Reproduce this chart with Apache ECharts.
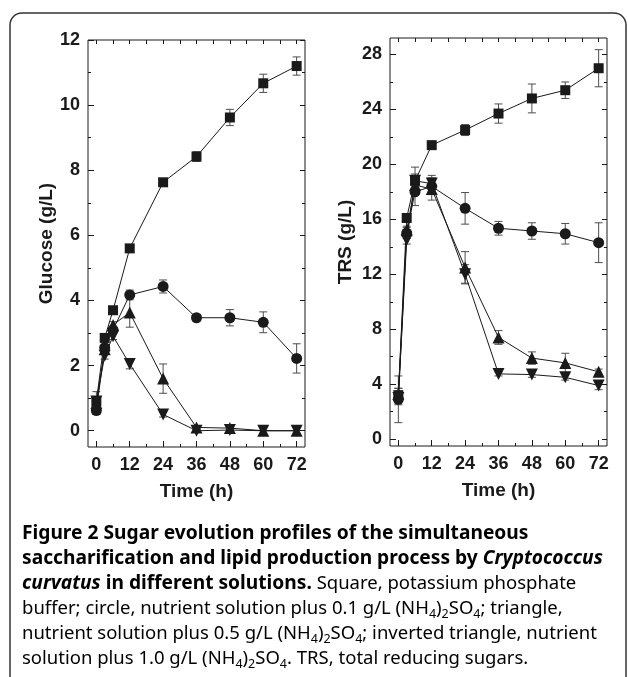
<!DOCTYPE html>
<html>
<head>
<meta charset="utf-8">
<script src="https://cdn.jsdelivr.net/npm/echarts@6/dist/echarts.min.js"></script>
<style>
  html, body { margin: 0; padding: 0; background: #fff; }
  #main { width: 628px; height: 677px; }
</style>
</head>
<body>
<div id="main"></div>
<script>
// sampling times (h)
var time = [0, 3, 6, 12, 24, 36, 48, 60, 72];

// glucose (g/L)
var gluSquare = [0.9, 2.85, 3.7, 5.6, 7.63, 8.42, 9.62, 10.67, 11.2];
var gluSquareErr = [0.1, 0.1, 0.1, 0.08, 0.08, 0.15, 0.25, 0.28, 0.28];
var gluCircle = [0.62, 2.55, 3.1, 4.17, 4.43, 3.47, 3.47, 3.33, 2.22];
var gluCircleErr = [0.12, 0.1, 0.1, 0.15, 0.2, 0.1, 0.25, 0.32, 0.45];
var gluTriangle = [0.85, 2.5, 3.25, 3.63, 1.6, 0.1, 0.08, 0, 0];
var gluTriangleErr = [0.35, 0.1, 0.1, 0.45, 0.45, 0.05, 0.05, 0, 0];
var gluInverted = [0.9, 2.3, 2.9, 2.05, 0.5, 0, 0.02, 0, 0];
var gluInvertedErr = [0.1, 0.1, 0.1, 0.15, 0.08, 0, 0, 0, 0];

// total reducing sugars (g/L)
var trsSquare = [3.2, 16.1, 18.8, 21.4, 22.5, 23.7, 24.8, 25.4, 27.0];
var trsSquareErr = [0.5, 0.3, 1.0, 0.2, 0.4, 0.7, 1.05, 0.6, 1.35];
var trsCircle = [2.9, 15.0, 18.0, 18.4, 16.8, 15.35, 15.15, 14.95, 14.3];
var trsCircleErr = [1.7, 0.4, 1.0, 0.6, 1.15, 0.5, 0.6, 0.75, 1.45];
var trsTriangle = [3.3, 15.2, 18.5, 18.2, 12.5, 7.4, 5.9, 5.55, 4.9];
var trsTriangleErr = [0.4, 0.3, 0.5, 0.8, 1.15, 0.5, 0.45, 0.7, 0.2];
var trsInverted = [3.0, 14.5, 18.8, 18.6, 12.0, 4.75, 4.7, 4.5, 3.9];
var trsInvertedErr = [0.5, 0.3, 0.5, 0.6, 0.7, 0.15, 0.2, 0.2, 0.3];

// tick values
var timeMajor = [0, 12, 24, 36, 48, 60, 72];
var timeMinor = [6, 18, 30, 42, 54, 66];
var gluMajor = [0, 2, 4, 6, 8, 10, 12];
var gluMinor = [1, 3, 5, 7, 9, 11];
var trsMajor = [0, 4, 8, 12, 16, 20, 24, 28];
var trsMinor = [2, 6, 10, 14, 18, 22, 26];

var chart = echarts.init(document.getElementById('main'));

var ink = '#1a1a1a';
var labelFont = { color: ink, fontFamily: 'Liberation Sans', fontWeight: 'bold', fontSize: 18 };
var nameFont = { color: ink, fontFamily: 'Liberation Sans', fontWeight: 'bold', fontSize: 19 };

function tickAxis(grid, pos, min, max, values, len, extra) {
  var ax = {
    gridIndex: grid, type: 'value', position: pos, min: min, max: max,
    axisLine: { show: false, onZero: false },
    splitLine: { show: false },
    axisTick: { show: true, inside: true, length: len, customValues: values, lineStyle: { color: ink, width: 1 } },
    axisLabel: { show: false }
  };
  if (extra) Object.assign(ax, extra);
  return ax;
}

var xAxes = [], yAxes = [];
// grid 0 : glucose   (x axes 0..3, y axes 0..3)
// grid 1 : TRS       (x axes 4..7, y axes 4..7)
[0, 1].forEach(function (g) {
  xAxes.push(tickAxis(g, 'bottom', -3, 75, timeMajor, 6, {
    axisLabel: Object.assign({ show: true, margin: 9, customValues: timeMajor }, labelFont),
    name: 'Time (h)', nameLocation: 'middle', nameGap: 35, nameTextStyle: nameFont
  }));
  xAxes.push(tickAxis(g, 'bottom', -3, 75, timeMinor, 3));
  xAxes.push(tickAxis(g, 'top', -3, 75, timeMajor, 4));
  xAxes.push(tickAxis(g, 'top', -3, 75, timeMinor, 4));
});

yAxes.push(tickAxis(0, 'left', -0.5, 12, gluMajor, 6, {
  axisLabel: Object.assign({ show: true, margin: 8, customValues: gluMajor }, labelFont),
  name: 'Glucose (g/L)', nameLocation: 'middle', nameGap: 31, nameTextStyle: nameFont
}));
yAxes.push(tickAxis(0, 'left', -0.5, 12, gluMinor, 3));
yAxes.push(tickAxis(0, 'right', -0.5, 12, gluMajor, 5));
yAxes.push(tickAxis(0, 'right', -0.5, 12, gluMinor, 3));

yAxes.push(tickAxis(1, 'left', -0.5, 29.2, trsMajor, 6, {
  axisLabel: Object.assign({ show: true, margin: 8, customValues: trsMajor }, labelFont),
  name: 'TRS (g/L)', nameLocation: 'middle', nameGap: 35, nameTextStyle: nameFont
}));
yAxes.push(tickAxis(1, 'left', -0.5, 29.2, trsMinor, 3));
yAxes.push(tickAxis(1, 'right', -0.5, 29.2, trsMajor, 5));
yAxes.push(tickAxis(1, 'right', -0.5, 29.2, trsMinor, 3));

function pairs(vals) {
  return time.map(function (t, i) { return [t, vals[i]]; });
}
function triples(vals, errs) {
  return time.map(function (t, i) { return [t, vals[i], errs[i]]; });
}

function errorBars(grid, vals, errs) {
  return {
    type: 'custom',
    xAxisIndex: grid * 4, yAxisIndex: grid * 4,
    data: triples(vals, errs),
    z: 1,
    silent: true,
    renderItem: function (params, api) {
      var x = api.value(0), y = api.value(1), e = api.value(2);
      if (!e) return null;
      var hi = api.coord([x, y + e]);
      var lo = api.coord([x, y - e]);
      var w = 4;
      var st = { stroke: '#4d4d4d', lineWidth: 1 };
      return {
        type: 'group',
        children: [
          { type: 'line', shape: { x1: hi[0], y1: hi[1], x2: lo[0], y2: lo[1] }, style: st },
          { type: 'line', shape: { x1: hi[0] - w, y1: hi[1], x2: hi[0] + w, y2: hi[1] }, style: st },
          { type: 'line', shape: { x1: lo[0] - w, y1: lo[1], x2: lo[0] + w, y2: lo[1] }, style: st }
        ]
      };
    }
  };
}

function lineSeries(grid, vals, symbol, size, rotate) {
  return {
    type: 'line',
    xAxisIndex: grid * 4, yAxisIndex: grid * 4,
    data: pairs(vals),
    symbol: symbol,
    symbolSize: size,
    symbolRotate: rotate || 0,
    showAllSymbol: true,
    z: 3,
    itemStyle: { color: ink, borderWidth: 0 },
    lineStyle: { color: ink, width: 1 },
    emphasis: { disabled: true }
  };
}

var series = [
  errorBars(0, gluSquare, gluSquareErr),
  errorBars(0, gluCircle, gluCircleErr),
  errorBars(0, gluTriangle, gluTriangleErr),
  errorBars(0, gluInverted, gluInvertedErr),
  lineSeries(0, gluSquare, 'rect', 10),
  lineSeries(0, gluCircle, 'circle', 11),
  lineSeries(0, gluTriangle, 'triangle', 12),
  lineSeries(0, gluInverted, 'triangle', 12, 180),

  errorBars(1, trsSquare, trsSquareErr),
  errorBars(1, trsCircle, trsCircleErr),
  errorBars(1, trsTriangle, trsTriangleErr),
  errorBars(1, trsInverted, trsInvertedErr),
  lineSeries(1, trsSquare, 'rect', 10),
  lineSeries(1, trsCircle, 'circle', 11),
  lineSeries(1, trsTriangle, 'triangle', 12),
  lineSeries(1, trsInverted, 'triangle', 12, 180)
];

// caption, one rich-text line per row
var capFont = 'Noto Sans';
var capRich = {
  b: { fontFamily: capFont, fontWeight: 'bold', fontSize: 19.2, color: '#231f20', lineHeight: 25 },
  bi: { fontFamily: capFont, fontWeight: 'bold', fontStyle: 'italic', fontSize: 19.2, color: '#231f20', lineHeight: 25 },
  r: { fontFamily: capFont, fontSize: 18.5, color: '#4a4a4a', lineHeight: 25 },
  s: { fontFamily: capFont, fontSize: 12.5, color: '#4a4a4a', lineHeight: 17, verticalAlign: 'bottom' }
};
var nh4 = '{r|(NH}{s|4}{r|)}{s|2}{r|SO}{s|4}';
var captionLines = [
  '{b|Figure 2 Sugar evolution profiles of the simultaneous}',
  '{b|saccharification and lipid production process by }{bi|Cryptococcus}',
  '{bi|curvatus}{b| in different solutions.}{r| Square, potassium phosphate}',
  '{r|buffer; circle, nutrient solution plus 0.1 g/L }' + nh4 + '{r|; triangle,}',
  '{r|nutrient solution plus 0.5 g/L }' + nh4 + '{r|; inverted triangle, nutrient}',
  '{r|solution plus 1.0 g/L }' + nh4 + '{r|. TRS, total reducing sugars.}'
];
var graphics = [{
  type: 'rect', silent: true, z: 0,
  shape: { x: 10, y: 13, width: 616, height: 720, r: 12 },
  style: { fill: 'none', stroke: '#333', lineWidth: 1.5 }
}];
captionLines.forEach(function (txt, i) {
  graphics.push({
    type: 'text', left: 22, top: 524 + i * 25, silent: true,
    style: { text: txt, rich: capRich, textVerticalAlign: 'top' }
  });
});

chart.setOption({
  backgroundColor: '#fff',
  animation: false,
  grid: [
    { left: 88, right: 323, top: 40, bottom: 230, show: true, borderColor: ink, borderWidth: 1, containLabel: false },
    { left: 390, right: 21, top: 38, bottom: 231, show: true, borderColor: ink, borderWidth: 1, containLabel: false }
  ],
  xAxis: xAxes,
  yAxis: yAxes,
  series: series,
  graphic: graphics
});
</script>
</body>
</html>
